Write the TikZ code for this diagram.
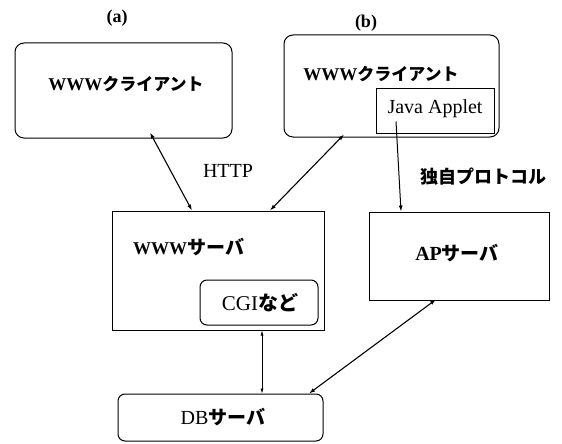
\documentclass[tikz,border=0pt]{standalone}
\usepackage{fontspec}
\setmainfont{Liberation Serif}
\newfontfamily\jp{Noto Sans CJK JP}
\usetikzlibrary{arrows.meta,calc}
\newcommand\fs[1]{\fontsize{#1}{#1}\selectfont}
\newcommand\J[2]{{\fs{#1}\jp\bfseries #2}}
\begin{document}
\begin{tikzpicture}[x=1pt,y=-1pt,
  box/.style={draw,line width=1pt,inner sep=0pt},
  rbox/.style={box,rounded corners=9pt},
  lbl/.style={inner sep=0pt},
  conn/.style={line width=1.1pt,{Latex[length=6pt,width=4pt]}-{Latex[length=6pt,width=4pt]}},
  thin/.style={line width=0.6pt,{Latex[length=5pt,width=3pt]}-{Latex[length=5pt,width=3pt]}}]
\useasboundingbox (0,0) rectangle (562,444);
% headings
\node[lbl,font=\bfseries\fs{18}] (ha) at (117,18) {(a)};
\node[lbl,font=\bfseries\fs{18}] (hb) at (366,23) {(b)};
% client (a)
\node[rbox,minimum width=217pt,minimum height=95pt] (ca) at (123.5,90.5) {};
\node[lbl] (cat) at (126,84) {{\fs{18}\bfseries WWW}\J{17}{クライアント}};
% client (b)
\node[rbox,minimum width=215pt,minimum height=102pt] (cb) at (391.5,86) {};
\node[lbl] (cbt) at (381,74) {{\fs{18}\bfseries WWW}\J{17}{クライアント}};
\node[box,minimum width=118pt,minimum height=45pt] (ja) at (435,110.5) {};
\node[lbl,font=\fs{20}] (jat) at (435,109) {Java Applet};
% WWW server
\node[box,minimum width=212pt,minimum height=119pt] (ws) at (218,270.5) {};
\node[lbl,anchor=west] (wst) at (133,247) {{\fs{18}\bfseries WWW}\J{19}{サーバ}};
\node[rbox,rounded corners=7pt,minimum width=118pt,minimum height=45pt] (cgi) at (259,302.5) {};
\node[lbl] (cgit) at (260,303) {{\fs{21}CGI}\J{20}{など}};
% AP server
\node[box,minimum width=180pt,minimum height=88pt] (ap) at (459,256) {};
\node[lbl] (apt) at (457,253) {{\fs{20}\bfseries AP}\J{19}{サーバ}};
% DB server
\node[rbox,rounded corners=7pt,minimum width=205pt,minimum height=47pt] (db) at (220.5,417.5) {};
\node[lbl] (dbt) at (223,417) {{\fs{20}DB}\J{19}{サーバ}};
% labels
\node[lbl,font=\fs{20}] (http) at (228,171) {HTTP};
\node[lbl] (proto) at (483,177) {\J{18}{独自プロトコル}};
% connectors
\draw[conn] ([xshift=26.5pt,yshift=6pt]ca.south) -- ([xshift=-26pt]ws.north);
\draw[conn] ([xshift=-47.5pt,yshift=3pt]cb.south) -- ([xshift=52pt]ws.north);
\draw[line width=1pt,-{Latex[length=6pt,width=4pt]}] ([xshift=-39pt,yshift=12pt]ja.south) -- ([xshift=-58pt]ap.north);
\draw[thin] ([xshift=44pt]ws.south) -- ([xshift=41.5pt]db.north);
\draw[conn] ([xshift=-23pt,yshift=1pt]ap.south) -- ([xshift=88.5pt]db.north);
\end{tikzpicture}
\end{document}
